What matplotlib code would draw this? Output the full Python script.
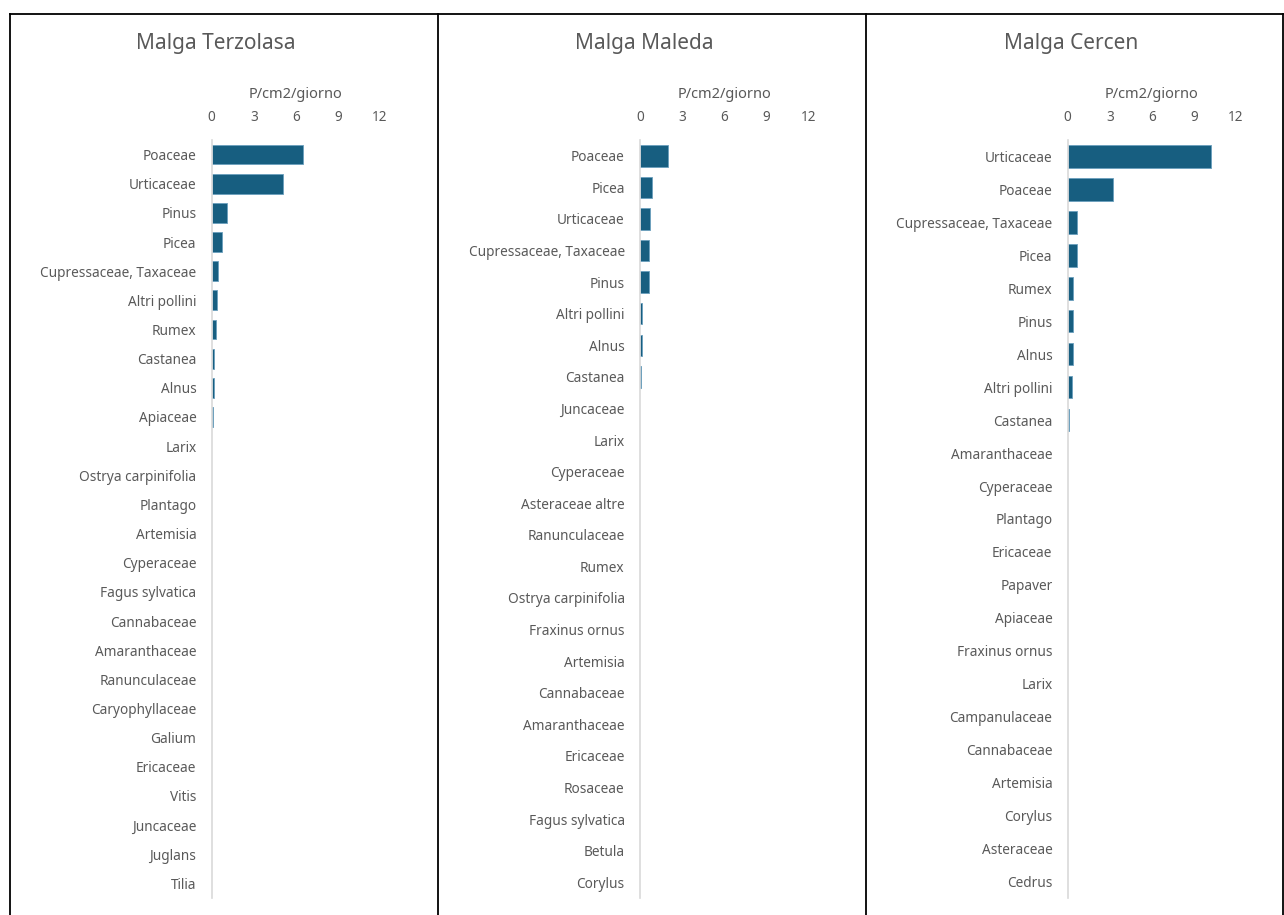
import matplotlib
matplotlib.use("Agg")
import matplotlib.pyplot as plt
from matplotlib.lines import Line2D

plt.rcParams['font.family'] = ['Noto Sans', 'DejaVu Sans']

# Pollen concentrations (P/cm2/giorno) per site
terzolasa_taxa = ["Poaceae", "Urticaceae", "Pinus", "Picea", "Cupressaceae, Taxaceae",
                  "Altri pollini", "Rumex", "Castanea", "Alnus", "Apiaceae", "Larix",
                  "Ostrya carpinifolia", "Plantago", "Artemisia", "Cyperaceae",
                  "Fagus sylvatica", "Cannabaceae", "Amaranthaceae", "Ranunculaceae",
                  "Caryophyllaceae", "Galium", "Ericaceae", "Vitis", "Juncaceae",
                  "Juglans", "Tilia"]
terzolasa_vals = [6.53, 5.08, 1.09, 0.73, 0.47, 0.36, 0.29, 0.16, 0.15, 0.08, 0.0,
                  0.0, 0.0, 0.0, 0.0, 0.0, 0.0, 0.0, 0.0, 0.0, 0.0, 0.0, 0.0, 0.0,
                  0.0, 0.0]

maleda_taxa = ["Poaceae", "Picea", "Urticaceae", "Cupressaceae, Taxaceae", "Pinus",
               "Altri pollini", "Alnus", "Castanea", "Juncaceae", "Larix", "Cyperaceae",
               "Asteraceae altre", "Ranunculaceae", "Rumex", "Ostrya carpinifolia",
               "Fraxinus ornus", "Artemisia", "Cannabaceae", "Amaranthaceae",
               "Ericaceae", "Rosaceae", "Fagus sylvatica", "Betula", "Corylus"]
maleda_vals = [2.0, 0.83, 0.71, 0.64, 0.64, 0.14, 0.13, 0.06, 0.0, 0.0, 0.0, 0.0,
               0.0, 0.0, 0.0, 0.0, 0.0, 0.0, 0.0, 0.0, 0.0, 0.0, 0.0, 0.0]

cercen_taxa = ["Urticaceae", "Poaceae", "Cupressaceae, Taxaceae", "Picea", "Rumex",
               "Pinus", "Alnus", "Altri pollini", "Castanea", "Amaranthaceae",
               "Cyperaceae", "Plantago", "Ericaceae", "Papaver", "Apiaceae",
               "Fraxinus ornus", "Larix", "Campanulaceae", "Cannabaceae", "Artemisia",
               "Corylus", "Asteraceae", "Cedrus"]
cercen_vals = [10.24, 3.25, 0.66, 0.66, 0.38, 0.38, 0.38, 0.31, 0.07, 0.0, 0.0, 0.0,
               0.0, 0.0, 0.0, 0.0, 0.0, 0.0, 0.0, 0.0, 0.0, 0.0, 0.0]

titles = ["Malga Terzolasa", "Malga Maleda", "Malga Cercen"]
x_ticks = [0, 3, 6, 9, 12]
x_label = "P/cm2/giorno"

BAR = "#175e80"
EDGE = "#6a9fbd"
TEXT = "#595959"
AXIS = "#d9d9d9"

W, H = 1284, 915
fig = plt.figure(figsize=(W / 100, H / 100), dpi=100)

def px_axes(x0, y0, x1, y1):
    return fig.add_axes([x0 / W, 1 - y1 / H, (x1 - x0) / W, (y1 - y0) / H])

panels = [
    (terzolasa_taxa, terzolasa_vals, 211.7, 216),
    (maleda_taxa, maleda_vals, 640.0, 644),
    (cercen_taxa, cercen_vals, 1067.7, 1071),
]
span = 168.3

for (taxa, vals, x0, tx), title in zip(panels, titles):
    ax = px_axes(x0, 140, x0 + span, 898)
    n = len(taxa)
    widths = [0.6 if v > 0 else 0 for v in vals]
    ax.barh(range(n), vals, height=0.68, color=BAR, edgecolor=EDGE, linewidth=widths)
    ax.set_xlim(0, 12)
    ax.set_ylim(n - 0.5, -0.5)
    ax.set_xticks(x_ticks)
    ax.set_xticklabels([str(t) for t in x_ticks])
    ax.set_yticks(range(n))
    ax.set_yticklabels(taxa)
    ax.xaxis.tick_top()
    ax.xaxis.set_label_position("top")
    ax.set_xlabel(x_label, color=TEXT, fontsize=10.5, labelpad=9)
    ax.tick_params(axis="x", length=0, pad=10.5, labelsize=9.8, labelcolor=TEXT)
    ax.tick_params(axis="y", length=0, pad=11, labelsize=9.8, labelcolor=TEXT)
    for s in ["top", "right", "bottom"]:
        ax.spines[s].set_visible(False)
    ax.spines["left"].set_color(AXIS)
    ax.spines["left"].set_linewidth(1.2)
    ax.set_facecolor("none")
    fig.text(tx / W, 1 - 43 / H, title, ha="center", va="center",
             fontsize=15, color=TEXT)

# Table cell borders around the three charts
for xb in [10, 438, 866, 1283]:
    fig.add_artist(Line2D([xb / W, xb / W], [1 - 14 / H, 0], color="black",
                          linewidth=1.3, transform=fig.transFigure))
fig.add_artist(Line2D([10 / W, 1283 / W], [1 - 14 / H, 1 - 14 / H], color="black",
                      linewidth=1.3, transform=fig.transFigure))

fig.savefig("out.png", dpi=100)
